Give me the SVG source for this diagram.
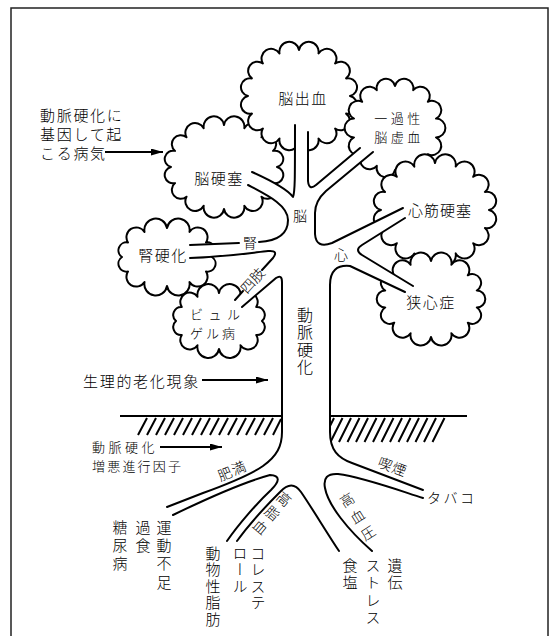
<svg xmlns="http://www.w3.org/2000/svg" width="558" height="636" viewBox="0 0 558 636">
  <defs>
    <style>
      .cloud { fill: #fff; stroke: #000; stroke-width: 2; stroke-linejoin: round; }
      .edge { fill: none; stroke: #000; stroke-width: 2; stroke-linecap: round; stroke-linejoin: round; }
      .fill { fill: #fff; stroke: none; }
      .ground { stroke: #000; stroke-width: 2; }
      .hatch line, .hatch path { stroke: #000; stroke-width: 2; fill: none; }
      .arrow { stroke: #000; stroke-width: 1.8; fill: none; }
      text { font-family: "Noto Sans CJK JP", "Noto Sans CJK SC", sans-serif; font-weight: 300; fill: #000; font-size: 15px; dominant-baseline: central; }
      .c { text-anchor: middle; }
      .s { font-size: 14px; }
      .xs { font-size: 13px; }
      .v { writing-mode: vertical-rl; }
    </style>
    <marker id="ah" viewBox="0 0 12 7" refX="12" refY="3.5" markerWidth="12" markerHeight="7" markerUnits="userSpaceOnUse" orient="auto">
      <path d="M0,0 L12,3.5 L0,7 Z" fill="#000"/>
    </marker>
  </defs>

  <!-- frame -->
  <rect x="11" y="8" width="537" height="640" fill="none" stroke="#222" stroke-width="1.5"/>

  <!-- clouds (back to front) -->
  <g id="node-noukousoku">
    <path class="cloud" d="M224,125 A8 8 0 0 1 244.3,128.2 A8 8 0 0 1 261.5,137.3 A8 8 0 0 1 273,150.9 A8 8 0 0 1 277,167 A8 8 0 0 1 273,183.1 A8 8 0 0 1 261.5,196.7 A8 8 0 0 1 244.3,205.8 A8 8 0 0 1 224,209 A8 8 0 0 1 203.7,205.8 A8 8 0 0 1 186.5,196.7 A8 8 0 0 1 175,183.1 A8 8 0 0 1 171,167 A8 8 0 0 1 175,150.9 A8 8 0 0 1 186.5,137.3 A8 8 0 0 1 203.7,128.2 A8 8 0 0 1 224,125 Z"/>
  </g>
  <g id="node-noushukketsu">
    <path class="cloud" d="M299,50 A8 8 0 0 1 318.5,53.5 A8 8 0 0 1 335.1,63.5 A8 8 0 0 1 346.1,78.4 A8 8 0 0 1 350,96 A8 8 0 0 1 346.1,113.6 A8 8 0 0 1 335.1,128.5 A8 8 0 0 1 318.5,138.5 A8 8 0 0 1 299,142 A8 8 0 0 1 279.5,138.5 A8 8 0 0 1 262.9,128.5 A8 8 0 0 1 251.9,113.6 A8 8 0 0 1 248,96 A8 8 0 0 1 251.9,78.4 A8 8 0 0 1 262.9,63.5 A8 8 0 0 1 279.5,53.5 A8 8 0 0 1 299,50 Z"/>
  </g>
  <g id="node-tia">
    <path class="cloud" d="M395,86 A8 8 0 0 1 413.2,90.2 A8 8 0 0 1 427.8,101.8 A8 8 0 0 1 436,118.6 A8 8 0 0 1 436,137.4 A8 8 0 0 1 427.8,154.2 A8 8 0 0 1 413.2,165.8 A8 8 0 0 1 395,170 A8 8 0 0 1 376.8,165.8 A8 8 0 0 1 362.2,154.2 A8 8 0 0 1 354,137.4 A8 8 0 0 1 354,118.6 A8 8 0 0 1 362.2,101.8 A8 8 0 0 1 376.8,90.2 A8 8 0 0 1 395,86 Z"/>
  </g>
  <g id="node-shinkinkousoku">
    <path class="cloud" d="M435,163 A8 8 0 0 1 455.7,166.6 A8 8 0 0 1 473.2,176.8 A8 8 0 0 1 484.9,192 A8 8 0 0 1 489,210 A8 8 0 0 1 484.9,228 A8 8 0 0 1 473.2,243.2 A8 8 0 0 1 455.7,253.4 A8 8 0 0 1 435,257 A8 8 0 0 1 414.3,253.4 A8 8 0 0 1 396.8,243.2 A8 8 0 0 1 385.1,228 A8 8 0 0 1 381,210 A8 8 0 0 1 385.1,192 A8 8 0 0 1 396.8,176.8 A8 8 0 0 1 414.3,166.6 A8 8 0 0 1 435,163 Z"/>
  </g>
  <g id="node-kyoushinshou">
    <path class="cloud" d="M431,261 A8 8 0 0 1 451.4,264.8 A8 8 0 0 1 467.8,275.3 A8 8 0 0 1 476.8,290.5 A8 8 0 0 1 476.8,307.5 A8 8 0 0 1 467.8,322.7 A8 8 0 0 1 451.4,333.2 A8 8 0 0 1 431,337 A8 8 0 0 1 410.6,333.2 A8 8 0 0 1 394.2,322.7 A8 8 0 0 1 385.2,307.5 A8 8 0 0 1 385.2,290.5 A8 8 0 0 1 394.2,275.3 A8 8 0 0 1 410.6,264.8 A8 8 0 0 1 431,261 Z"/>
  </g>
  <g id="node-jinkouka">
    <path class="cloud" d="M167,228 A8 8 0 0 1 189.5,231.9 A8 8 0 0 1 206,242.5 A8 8 0 0 1 212,257 A8 8 0 0 1 206,271.5 A8 8 0 0 1 189.5,282.1 A8 8 0 0 1 167,286 A8 8 0 0 1 144.5,282.1 A8 8 0 0 1 128,271.5 A8 8 0 0 1 122,257 A8 8 0 0 1 128,242.5 A8 8 0 0 1 144.5,231.9 A8 8 0 0 1 167,228 Z"/>
  </g>
  <g id="node-buerger">
    <path class="cloud" d="M219,293 A8 8 0 0 1 240.5,296.8 A8 8 0 0 1 256.2,307 A8 8 0 0 1 262,321 A8 8 0 0 1 256.2,335 A8 8 0 0 1 240.5,345.2 A8 8 0 0 1 219,349 A8 8 0 0 1 197.5,345.2 A8 8 0 0 1 181.8,335 A8 8 0 0 1 176,321 A8 8 0 0 1 181.8,307 A8 8 0 0 1 197.5,296.8 A8 8 0 0 1 219,293 Z"/>
  </g>

  <!-- hatching right of the trunk (trunk fill trims its inner end) -->
  <g class="hatch" id="hatch-right">
    <path d="M322,442 L334,418 M330.5,442 L342.5,418 M339,442 L351,418 M347.5,442 L359.5,418 M356,442 L368,418 M364.5,442 L376.5,418 M373,442 L385,418 M381.5,442 L393.5,418 M390,442 L402,418 M398.5,442 L410.5,418 M407,442 L419,418 M415.5,442 L427.5,418 M424,442 L436,418 M432.5,442 L444.5,418"/>
  </g>

  <!-- tree: trunk, branches and roots -->
  <g id="tree">
    <path class="fill" d="M252,172 C272,181 288,190 293,197 C295,192 295,180 295,125 L308,132 L308,181 Q309,191 316,185 L360,148 L373,152 L326,191 Q315,201 315,213 L315,234 Q316,249 332,243 L403,208 L405,218 L362,245 Q354,250 362,255 L413,286 L405,292 L350,266 Q330,264 330,285 L330,432 C330,450 338,458 352,463 L423,490 L423,498 C395,489 362,477 338,474 Q322,473 325,488 C328,505 348,530 372,551 L339,551 C327,533 312,508 301,492 Q292,479 280,492 C266,506 250,523 237,541 L227,541 C238,525 257,503 271,490 Q285,476 270,475 C248,481 208,498 173,515 L167,507 L203,493 C225,485 250,475 263,466 C277,456 282,446 282,432 L282,282 Q282,274 276,278 L242,307 L235,300 L273,258 Q279,250 268,251 C250,253 222,257 190,258 L190,245 L259,242 C277,241 288,235 288,220 C288,205 267,195 248,185 Z"/>
    <path class="edge" d="M252,172 C272,181 288,190 293,197 C295,192 295,180 295,125"/>
    <path class="edge" d="M308,132 L308,181 Q309,191 316,185 L360,148"/>
    <path class="edge" d="M373,152 L326,191 Q315,201 315,213 L315,234 Q316,249 332,243 L403,208"/>
    <path class="edge" d="M405,218 L362,245 Q354,250 362,255 L413,286"/>
    <path class="edge" d="M405,292 L350,266 Q330,264 330,285 L330,432 C330,450 338,458 352,463 L423,490"/>
    <path class="edge" d="M423,498 C395,489 362,477 338,474 Q322,473 325,488 C328,505 348,530 372,551"/>
    <path class="edge" d="M339,551 C327,533 312,508 301,492 Q292,479 280,492 C266,506 250,523 237,541"/>
    <path class="edge" d="M227,541 C238,525 257,503 271,490 Q285,476 270,475 C248,481 208,498 173,515"/>
    <path class="edge" d="M167,507 L203,493 C225,485 250,475 263,466 C277,456 282,446 282,432 L282,282 Q282,274 276,278 L242,307"/>
    <path class="edge" d="M235,300 L243,291 M262,270 L273,258 Q279,250 268,251 C250,253 222,257 190,258"/>
    <path class="edge" d="M248,185 C267,195 288,205 288,220 C288,235 277,241 259,242 M239,243 L190,245"/>
  </g>

  <!-- ground lines and hatching left of the trunk -->
  <g id="ground">
    <g class="hatch" id="hatch-left">
      <line x1="138" y1="435" x2="147" y2="418"/>
      <line x1="147" y1="435" x2="156" y2="418"/>
      <line x1="156" y1="435" x2="165" y2="418"/>
      <line x1="165" y1="435" x2="174" y2="418"/>
      <line x1="174" y1="435" x2="183" y2="418"/>
      <line x1="183" y1="435" x2="192" y2="418"/>
      <line x1="192" y1="435" x2="201" y2="418"/>
      <line x1="201" y1="435" x2="210" y2="418"/>
      <line x1="210" y1="435" x2="219" y2="418"/>
      <line x1="219" y1="435" x2="228" y2="418"/>
      <line x1="228" y1="435" x2="237" y2="418"/>
      <line x1="237" y1="435" x2="246" y2="418"/>
      <line x1="246" y1="435" x2="255" y2="418"/>
      <line x1="255" y1="435" x2="264" y2="418"/>
      <line x1="264" y1="435" x2="273" y2="418"/>
      <line x1="273" y1="435" x2="281" y2="419"/>
    </g>
    <line class="ground" x1="120" y1="416" x2="282" y2="416"/>
    <line class="ground" x1="330" y1="416" x2="467" y2="416"/>
  </g>

  <!-- cloud labels -->
  <g id="labels">
    <text class="c" x="303" y="97" letter-spacing="1.5">脳出血</text>
    <text class="c xs" x="399" y="117" letter-spacing="3.5">一過性</text>
    <text class="c xs" x="399" y="136" letter-spacing="3.5">脳虚血</text>
    <text class="c" x="440" y="209" letter-spacing="1">心筋硬塞</text>
    <text class="c" x="431" y="301" letter-spacing="1.5">狭心症</text>
    <text class="c" x="219" y="177" letter-spacing="1.5">脳硬塞</text>
    <text class="c" x="163" y="254" letter-spacing="1.5">腎硬化</text>
    <text class="xs" x="190" y="313" letter-spacing="5.5">ビュル</text>
    <text class="xs" x="190" y="332" letter-spacing="3">ゲル病</text>
  </g>

  <!-- tree labels -->
  <g id="tree-labels">
    <text class="s c" x="300" y="215">脳</text>
    <text class="s c" x="341" y="254">心</text>
    <text class="s c" x="250" y="242">腎</text>
    <text class="s c" transform="translate(252,280) rotate(-48)">四肢</text>
    <text class="v" x="305" y="307" letter-spacing="1.3" style="font-size:16px">動脈硬化</text>
    <text class="s c" transform="translate(232,470) rotate(-23)" letter-spacing="1">肥満</text>
    <text class="s c" transform="translate(393,466) rotate(21)" letter-spacing="1">喫煙</text>
    <text class="s v" transform="translate(284,499) rotate(40)" x="0" y="-7" letter-spacing="4.4">高脂血</text>
    <text class="s v" transform="translate(347,500) rotate(-32.5)" x="0" y="-7" letter-spacing="5.5">高血圧</text>
  </g>

  <!-- root factors -->
  <g id="factors">
    <text class="v" x="120" y="519.5" letter-spacing="3.3">糖尿病</text>
    <text class="v" x="143" y="519.5" letter-spacing="3.3">過食</text>
    <text class="v" x="164" y="519.5" letter-spacing="3.3">運動不足</text>
    <text class="v" x="213" y="545.5" letter-spacing="1.5">動物性脂肪</text>
    <text class="v" x="240" y="545.5" letter-spacing="1.5">ロール</text>
    <text class="v" x="258" y="545.5" letter-spacing="1.5">コレステ</text>
    <text class="v" x="350" y="557.5" letter-spacing="2.5">食塩</text>
    <text class="v" x="373" y="557.5" letter-spacing="2.5">ストレス</text>
    <text class="v" x="395" y="557.5" letter-spacing="2.5">遺伝</text>
    <text class="s" x="427" y="497" letter-spacing="2.5">タバコ</text>
  </g>

  <!-- annotations -->
  <g id="notes">
    <text x="40" y="114" letter-spacing="1.7">動脈硬化に</text>
    <text x="40" y="133" letter-spacing="1.7">基因して起</text>
    <text x="40" y="152" letter-spacing="1.7">こる病気</text>
    <text x="83" y="380" letter-spacing="1.7">生理的老化現象</text>
    <text class="xs" x="92" y="446" letter-spacing="3.5">動脈硬化</text>
    <text class="xs" x="92" y="465" letter-spacing="2.2">増悪進行因子</text>
  </g>

  <!-- arrows -->
  <g id="connectors">
    <line class="arrow" x1="105" y1="152" x2="163" y2="152" marker-end="url(#ah)"/>
    <line class="arrow" x1="202" y1="380" x2="268" y2="380" marker-end="url(#ah)"/>
    <line class="arrow" x1="160" y1="447" x2="222" y2="447" marker-end="url(#ah)"/>
  </g>
</svg>
